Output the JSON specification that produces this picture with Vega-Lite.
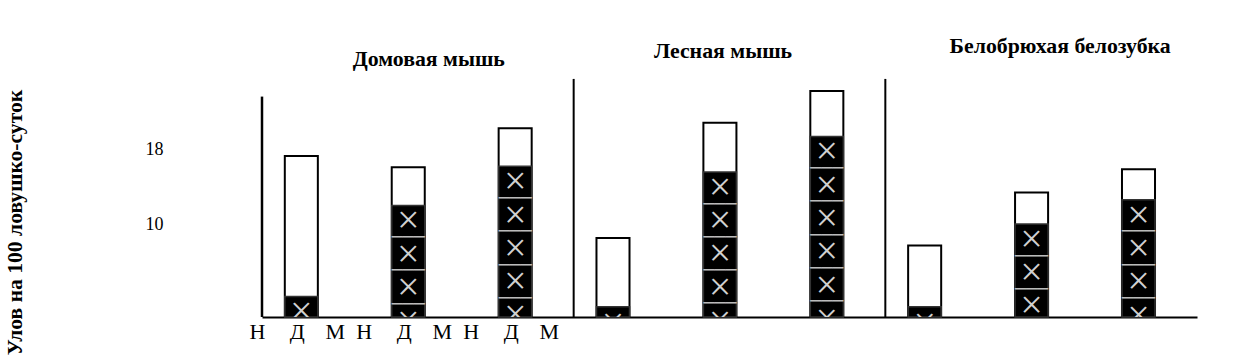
{
  "$schema": "https://vega.github.io/schema/vega-lite/v6.json",
  "width": 935,
  "height": 279,
  "autosize": {"type": "none"},
  "padding": {"left": 262, "top": 38, "right": 46, "bottom": 40},
  "background": "white",
  "config": {"view": {"stroke": null}, "font": "Liberation Serif"},
  "data": {
    "values": [
      {"species": "Домовая мышь", "season": "1", "total": 17.3, "dark": 2.2},
      {"species": "Домовая мышь", "season": "2", "total": 16.1, "dark": 12.0},
      {"species": "Домовая мышь", "season": "3", "total": 20.3, "dark": 16.2},
      {"species": "Лесная мышь", "season": "1", "total": 8.5, "dark": 1.1},
      {"species": "Лесная мышь", "season": "2", "total": 20.9, "dark": 15.6},
      {"species": "Лесная мышь", "season": "3", "total": 24.3, "dark": 19.4},
      {"species": "Белобрюхая белозубка", "season": "1", "total": 7.7, "dark": 1.1},
      {"species": "Белобрюхая белозубка", "season": "2", "total": 13.4, "dark": 10.0},
      {"species": "Белобрюхая белозубка", "season": "3", "total": 15.9, "dark": 12.6}
    ]
  },
  "encoding": {
    "x": {
      "field": "species",
      "type": "nominal",
      "sort": ["Домовая мышь", "Лесная мышь", "Белобрюхая белозубка"],
      "scale": {"paddingInner": 0, "paddingOuter": 0},
      "axis": {"labels": false, "ticks": false, "title": null, "domainColor": "black", "domainWidth": 2, "grid": false}
    }
  },
  "layer": [
    {
      "mark": {"type": "bar", "fill": "white", "stroke": "black", "strokeWidth": 2},
      "encoding": {
        "xOffset": {"field": "season", "type": "nominal", "scale": {"paddingInner": 0.691, "paddingOuter": 0.303, "align": 0.352}},
        "y": {
          "field": "total",
          "type": "quantitative",
          "scale": {"domain": [0, 30], "nice": false, "zero": true},
          "axis": {
            "values": [10, 18],
            "ticks": false,
            "domain": false,
            "grid": false,
            "labelFont": "Liberation Serif",
            "labelFontSize": 18,
            "labelColor": "black",
            "labelPadding": 99,
            "title": "Улов на 100 ловушко-суток",
            "titleFont": "Liberation Serif",
            "titleFontSize": 21.6,
            "titleFontWeight": "bold",
            "titleColor": "black",
            "titleAngle": 270,
            "titleX": -241,
            "titleY": 184,
            "titleAlign": "center",
            "titleBaseline": "alphabetic"
          }
        }
      }
    },
    {
      "mark": {"type": "bar", "fill": "black", "stroke": "#333333", "strokeWidth": 1.5},
      "encoding": {
        "xOffset": {"field": "season", "type": "nominal"},
        "y": {"field": "dark", "type": "quantitative"}
      }
    },
    {
      "mark": {"type": "text", "text": ["×", "×", "×", "×", "×", "×"], "font": "Liberation Serif", "fontSize": 40, "fill": "#d0d0d0", "baseline": "top", "align": "center", "lineHeight": 33.3, "dy": -4.1, "clip": true},
      "encoding": {
        "xOffset": {"field": "season", "type": "nominal"},
        "y": {"field": "dark", "type": "quantitative"}
      }
    },
    {
      "mark": {"type": "text", "text": ["───", "───", "───", "───", "───"], "font": "DejaVu Sans Mono", "fontSize": 18.3, "fill": "#bbbbbb", "baseline": "top", "align": "center", "lineHeight": 33.3, "dy": 23.6, "clip": true},
      "encoding": {
        "xOffset": {"field": "season", "type": "nominal"},
        "y": {"field": "dark", "type": "quantitative"}
      }
    },
    {
      "data": {"values": [{"species": "Домовая мышь"}]},
      "mark": {"type": "rule", "color": "black", "strokeWidth": 2.5},
      "encoding": {
        "x": {"field": "species", "type": "nominal", "bandPosition": 0},
        "y": {"datum": 0},
        "y2": {"datum": 23.7}
      }
    },
    {
      "data": {"values": [{"species": "Лесная мышь"}, {"species": "Белобрюхая белозубка"}]},
      "mark": {"type": "rule", "color": "black", "strokeWidth": 2},
      "encoding": {
        "x": {"field": "species", "type": "nominal", "bandPosition": 0},
        "y": {"datum": 0},
        "y2": {"datum": 25.6}
      }
    },
    {
      "data": {"values": [{"species": "Домовая мышь"}]},
      "mark": {"type": "text", "text": "Домовая мышь", "font": "Liberation Serif", "fontSize": 21.8, "fontWeight": "bold", "fill": "black", "align": "center", "baseline": "alphabetic", "dx": 11},
      "encoding": {"y": {"datum": 27.0}}
    },
    {
      "data": {"values": [{"species": "Лесная мышь"}]},
      "mark": {"type": "text", "text": "Лесная мышь", "font": "Liberation Serif", "fontSize": 21.8, "fontWeight": "bold", "fill": "black", "align": "center", "baseline": "alphabetic", "dx": -6.5},
      "encoding": {"y": {"datum": 27.9}}
    },
    {
      "data": {"values": [{"species": "Белобрюхая белозубка"}]},
      "mark": {"type": "text", "text": "Белобрюхая белозубка", "font": "Liberation Serif", "fontSize": 21.8, "fontWeight": "bold", "fill": "black", "align": "center", "baseline": "alphabetic", "dx": 19},
      "encoding": {"y": {"datum": 28.4}}
    },
    {
      "data": {"values": [{"species": "Домовая мышь", "season": "1"}, {"species": "Домовая мышь", "season": "2"}, {"species": "Домовая мышь", "season": "3"}]},
      "mark": {"type": "text", "text": "Н", "font": "Liberation Serif", "fontSize": 22, "fill": "black", "align": "center", "baseline": "alphabetic", "dx": -44, "dy": 22},
      "encoding": {"xOffset": {"field": "season", "type": "nominal"}, "y": {"datum": 0}}
    },
    {
      "data": {"values": [{"species": "Домовая мышь", "season": "1"}, {"species": "Домовая мышь", "season": "2"}, {"species": "Домовая мышь", "season": "3"}]},
      "mark": {"type": "text", "text": "Д", "font": "Liberation Serif", "fontSize": 22, "fill": "black", "align": "center", "baseline": "alphabetic", "dx": -4, "dy": 22},
      "encoding": {"xOffset": {"field": "season", "type": "nominal"}, "y": {"datum": 0}}
    },
    {
      "data": {"values": [{"species": "Домовая мышь", "season": "1"}, {"species": "Домовая мышь", "season": "2"}, {"species": "Домовая мышь", "season": "3"}]},
      "mark": {"type": "text", "text": "М", "font": "Liberation Serif", "fontSize": 22, "fill": "black", "align": "center", "baseline": "alphabetic", "dx": 34, "dy": 22},
      "encoding": {"xOffset": {"field": "season", "type": "nominal"}, "y": {"datum": 0}}
    }
  ]
}
